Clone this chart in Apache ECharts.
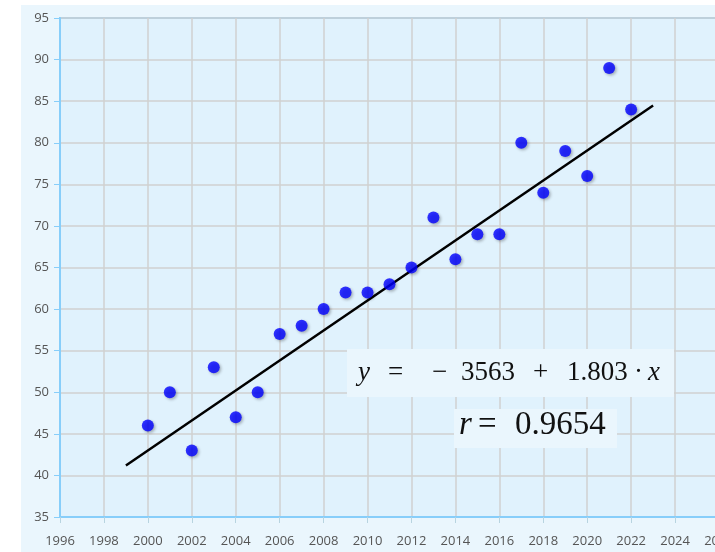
<!DOCTYPE html>
<html><head><meta charset="utf-8">
<script src="https://cdn.jsdelivr.net/npm/echarts@6/dist/echarts.min.js"></script>
<style>
html,body{margin:0;padding:0;background:#fff;width:715px;height:552px;overflow:hidden}
#bg{position:absolute;left:21px;top:5px;width:700px;height:560px;background:#eaf6fd}
#c{position:absolute;left:0;top:0;width:715px;height:552px}
</style></head>
<body><div id="bg"></div><div id="c"></div>
<script>
const years = [2000,2001,2002,2003,2004,2005,2006,2007,2008,2009,2010,2011,2012,2013,2014,2015,2016,2017,2018,2019,2020,2021,2022];
const values = [46,50,43,53,47,50,57,58,60,62,62,63,65,71,66,69,69,80,74,79,76,89,84];
const intercept = -3563;
const slope = 1.803;
const lineYears = [1999, 2023];
const eqTokens = ['y','=','−','3563','+','1.803','·','x'];
const rTokens = ['r','=','0.9654'];

const chart = echarts.init(document.getElementById('c'), null, {renderer:'canvas'});
const pts = years.map((y,i)=>[y, values[i]]);
const linePts = lineYears.map(x=>[x, intercept + slope*x]);
const serif = '"Liberation Serif","DejaVu Serif",serif';
function tok(t, x, y, size, italic){
  return {type:'text', x:x, y:y, z:100, style:{text:t, fill:'#111', font:(italic?'italic ':'')+size+'px '+serif, align:'left', verticalAlign:'middle'}};
}
const eqX = [358,388,432,461,533,567,634,648];
const eqIt = [1,0,0,0,0,0,0,1];
const rX = [459,478,515];
const rIt = [1,0,0];
const graphics = [
  {type:'rect', shape:{x:347,y:349,width:327,height:48}, style:{fill:'#eaf6fd'}, z:90},
  {type:'rect', shape:{x:454,y:409,width:163,height:39}, style:{fill:'#eaf6fd'}, z:90}
];
eqTokens.forEach((t,i)=>graphics.push(tok(t, eqX[i], 373, 27, eqIt[i])));
rTokens.forEach((t,i)=>graphics.push(tok(t, rX[i], 425, 33, rIt[i])));

chart.setOption({
  animation:false,
  backgroundColor:'transparent',
  grid:{left:60, width:659, top:18, bottom:35, outerBoundsMode:'none', containLabel:false, show:true, backgroundColor:'#e0f2fd', borderColor:'#87cefa', borderWidth:2},
  xAxis:{type:'value', min:1996, max:2026, interval:2,
    axisLine:{show:true, lineStyle:{color:'#87cefa', width:2}},
    axisTick:{show:true, length:6, lineStyle:{color:'#b8d4e0'}},
    axisLabel:{color:'#555', fontSize:13, fontFamily:'"Open Sans", sans-serif', margin:18, formatter:v=>String(v)},
    splitLine:{show:true, lineStyle:{color:'#d0d0d0', width:1.5}}},
  yAxis:{type:'value', min:35, max:95, interval:5,
    axisLine:{show:true, lineStyle:{color:'#87cefa', width:2}},
    axisTick:{show:true, length:6, lineStyle:{color:'#87cefa'}},
    axisLabel:{color:'#555', fontSize:13, fontFamily:'"Open Sans", sans-serif', margin:11},
    splitLine:{show:true, lineStyle:{color:'#d0d0d0', width:1.5}}},
  series:[
    {type:'line', data:linePts, symbol:'none', lineStyle:{color:'#000', width:2.5}, z:2},
    {type:'scatter', data:pts, symbolSize:12, z:3,
     itemStyle:{color:'#0000ff', shadowBlur:3, shadowOffsetX:1.5, shadowOffsetY:1.5, shadowColor:'rgba(0,0,0,0.35)'}}
  ],
  graphic:graphics
});
</script></body></html>
